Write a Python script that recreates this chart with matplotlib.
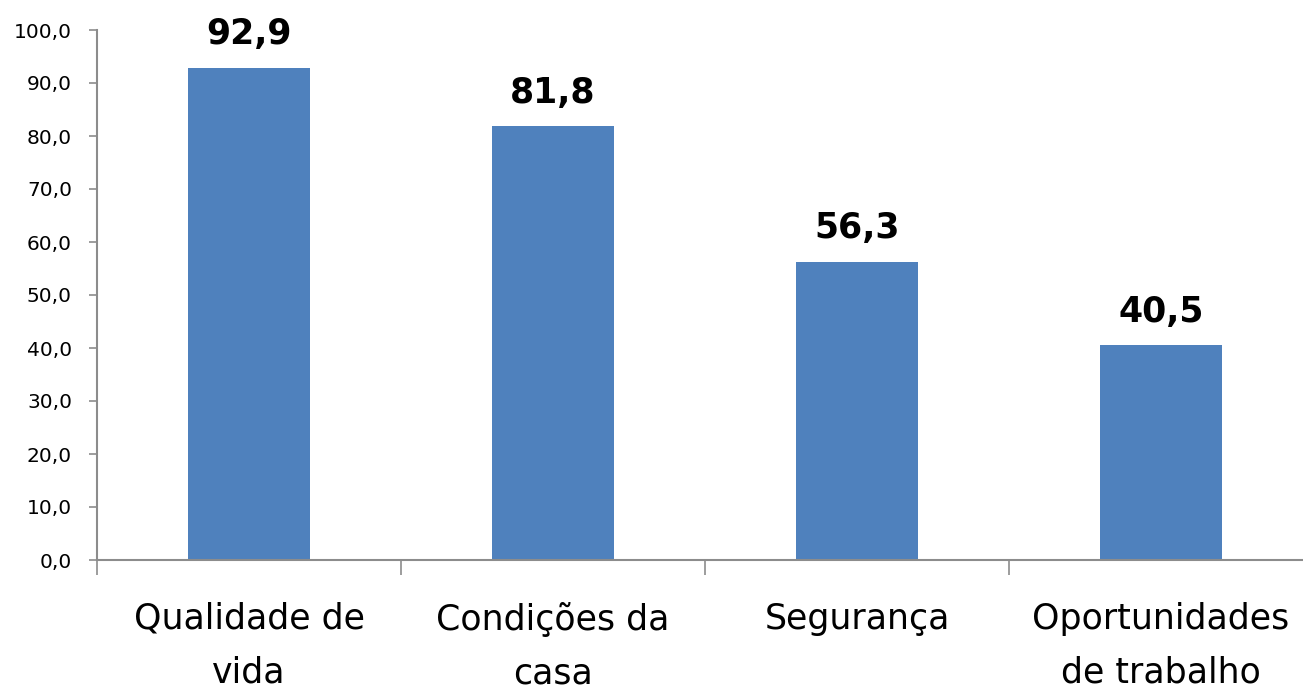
import numpy as np
import matplotlib
matplotlib.use("Agg")
import matplotlib.pyplot as plt

# Dados
categorias = ["Qualidade de\nvida", "Condições da\ncasa", "Segurança", "Oportunidades\nde trabalho"]
valores = [92.9, 81.8, 56.3, 40.5]
yticks = np.arange(0, 101, 10)

cor_barra = "#4F81BD"
cor_eixo = "#8C8C8C"

fig = plt.figure(figsize=(13.03, 6.93), dpi=100)
# eixo ocupa de x=97 até x=1313 (passa um pouco da borda direita)
ax = fig.add_axes([97/1303, (693-560)/693, 1216/1303, 530/693])

x = np.arange(len(categorias))
ax.bar(x, valores, width=0.4, color=cor_barra)

for xi, v in zip(x, valores):
    ax.annotate(f"{v:.1f}".replace(".", ","), (xi, v), xytext=(0, 12),
                textcoords="offset points", ha="center", va="bottom",
                fontsize=25, fontweight="bold", color="black")

ax.set_xlim(-0.5, len(categorias) - 0.5)
ax.set_ylim(0, 100)
ax.set_yticks(yticks)
ax.set_yticklabels([f"{t:.1f}".replace(".", ",") for t in yticks], fontsize=14.5)

ax.set_xticks(x)
ax.set_xticklabels(categorias, fontsize=25, linespacing=1.75)
ax.set_xticks(np.arange(-0.5, len(categorias), 1), minor=True)
ax.tick_params(axis="x", which="major", length=0, pad=30)
ax.tick_params(axis="x", which="minor", length=11, width=1.2, color=cor_eixo)
ax.tick_params(axis="y", length=6, width=1.2, color=cor_eixo, pad=12)

for lado in ["top", "right"]:
    ax.spines[lado].set_visible(False)
for lado in ["left", "bottom"]:
    ax.spines[lado].set_color(cor_eixo)
    ax.spines[lado].set_linewidth(1.5)

fig.savefig("out.png", dpi=100)
